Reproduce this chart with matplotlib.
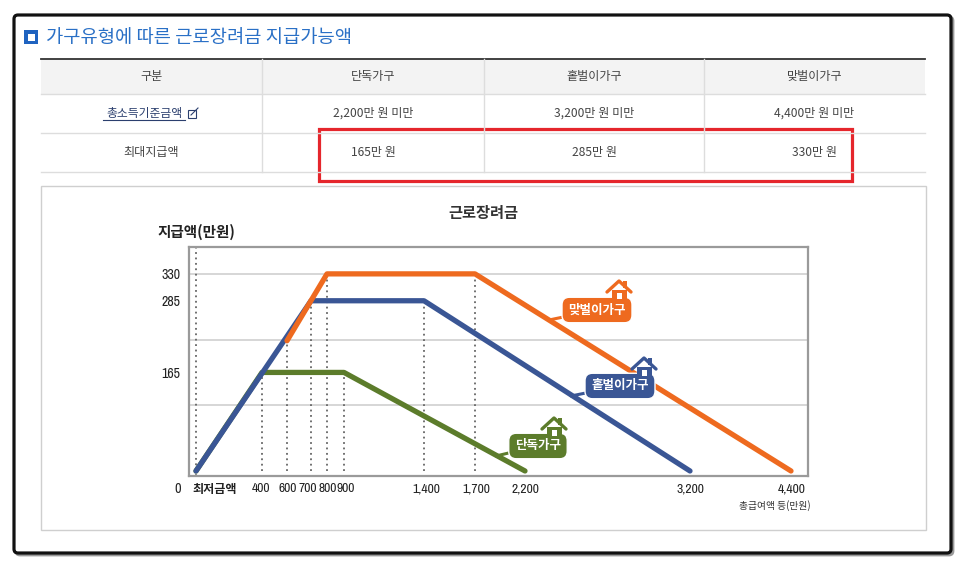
import numpy as np
import matplotlib.pyplot as plt
from matplotlib import font_manager
from matplotlib.transforms import offset_copy
from matplotlib.patches import Rectangle, FancyBboxPatch

plt.rcParams['font.family'] = ['Noto Sans CJK KR', 'DejaVu Sans']
fonts = font_manager.fontManager.ttflist
names = {f.name for f in fonts}
NUMFONT, NUMSIZE = ['Liberation Sans'], 7
for cand in ['Liberation Sans Narrow', 'Arial Narrow', 'Archivo Narrow', 'PT Sans Narrow',
             'Roboto Condensed', 'Open Sans Condensed', 'Fira Sans Condensed']:
    if cand in names:
        NUMFONT, NUMSIZE = [cand], 9.8
        break

# data
title = '가구유형에 따른 근로장려금 지급가능액'
table_head = ['구분', '단독가구', '홑벌이가구', '맞벌이가구']
table_row1 = ['총소득기준금액', '2,200만 원 미만', '3,200만 원 미만', '4,400만 원 미만']
table_row2 = ['최대지급액', '165만 원', '285만 원', '330만 원']

x_ticks = [0, 400, 600, 700, 800, 900, 1400, 1700, 2200, 3200, 4400]
x_labels = ['최저금액', '400', '600', '700', '800', '900', '1,400', '1,700', '2,200', '3,200', '4,400']
y_ticks = [165, 285, 330]
y_grid = [110, 220, 330]

single_x = [0, 400, 900, 2200]
single_y = [0, 165, 165, 0]
one_x = [0, 700, 1400, 3200]
one_y = [0, 285, 285, 0]
# 맞벌이 rising part is hidden under 홑벌이 until 600
dual_x = [600, 800, 1700, 4400]
dual_y = [218, 330, 330, 0]

dot_x = [400, 600, 700, 800, 900, 1400, 1700]
dot_top = [165, 218, 285, 330, 165, 285, 330]

# small horizontal nudges of the x labels, in pixels
label_nudge = [-4, -1, 1, -3, 1, 2, 2, 1, 0, 0, 1]

ORANGE = '#ee6a1f'
BLUE = '#3a5695'
GREEN = '#5c7c2b'

fig = plt.figure(figsize=(9.66, 5.68), dpi=100)
bg = fig.add_axes([0, 0, 1, 1])
bg.set_xlim(0, 966)
bg.set_ylim(568, 0)
bg.axis('off')

# outer frame
bg.add_patch(FancyBboxPatch((16, 17), 937, 538, boxstyle='round,pad=0,rounding_size=4',
                            fc='none', ec='#9a9a9a', lw=2))
bg.add_patch(FancyBboxPatch((14, 15), 937, 538, boxstyle='round,pad=0,rounding_size=4',
                            fc='white', ec='#111111', lw=2.3))

# title
bg.add_patch(Rectangle((24, 30), 14, 14, fc='#1f63c0', ec='none'))
bg.add_patch(Rectangle((28, 34), 7, 7, fc='white', ec='none'))
bg.text(46, 37, title, fontsize=13.5, fontweight='medium', color='#2a70c6', va='center', ha='left')

# table
tx0, tx1 = 41, 925
cols = [41, 262, 484, 704, 925]
rows = [59, 94, 133, 172]
bg.add_patch(Rectangle((tx0, rows[0]), tx1 - tx0, rows[1] - rows[0], fc='#f3f3f3', ec='none'))
for y in rows[1:]:
    bg.plot([tx0, tx1], [y, y], color='#dddddd', lw=1)
bg.plot([tx0, tx1], [rows[0], rows[0]], color='#333333', lw=1.3)
for x in cols[1:-1]:
    bg.plot([x, x], [rows[0], rows[-1]], color='#dddddd', lw=1)
for r, row in enumerate([table_head, table_row1, table_row2]):
    yc = (rows[r] + rows[r + 1]) / 2
    for c, txt in enumerate(row):
        xc = (cols[c] + cols[c + 1]) / 2
        if r == 1 and c == 0:
            bg.text(xc - 7, yc, txt, fontsize=8.5, color='#2b3f6e', ha='center', va='center')
            bg.plot([103, 185], [119.5, 119.5], color='#2b3f6e', lw=0.8)
            bg.add_patch(Rectangle((188, 110), 8, 8, fc='none', ec='#2b3f6e', lw=0.8))
            bg.plot([191, 198], [115, 108], color='#2b3f6e', lw=0.8)
        else:
            bg.text(xc, yc, txt, fontsize=8.7, color='#444444', ha='center', va='center')

bg.add_patch(Rectangle((319, 129), 533, 52, fc='none', ec='#e5262c', lw=2.3))

# chart panel
bg.add_patch(Rectangle((41, 186), 885, 344, fc='none', ec='#cfcfcf', lw=1))
bg.text(483, 213, '근로장려금', fontsize=11, fontweight='bold', color='#333333', ha='center', va='center')
bg.text(157, 232, '지급액(만원)', fontsize=10.5, fontweight='bold', color='#222222', ha='left', va='center')
bg.text(178, 489, '0', fontsize=NUMSIZE + 0.5, family=NUMFONT, color='#222222', ha='center', va='center')
bg.text(775, 506, '총급여액 등(만원)', fontsize=7, color='#333333', ha='center', va='center')

# chart: piecewise x scale following the drawing
bv = np.array(x_ticks, float)
bp = np.array([196, 262, 287, 311, 327, 344, 424, 475, 525, 690, 791], float)


def fwd(x):
    x = np.asarray(x, float)
    out = np.interp(x, bv, bp)
    out = np.where(x < bv[0], bp[0] + (x - bv[0]) * 0.1, out)
    out = np.where(x > bv[-1], bp[-1] + (x - bv[-1]) * 0.1, out)
    return out


def inv(p):
    p = np.asarray(p, float)
    out = np.interp(p, bp, bv)
    out = np.where(p < bp[0], bv[0] + (p - bp[0]) / 0.1, out)
    out = np.where(p > bp[-1], bv[-1] + (p - bp[-1]) / 0.1, out)
    return out


left, right, top, bottom = 189, 808, 247, 476
ax = fig.add_axes([left / 966, (568 - bottom) / 568, (right - left) / 966, (bottom - top) / 568])
ax.set_facecolor('none')
ax.set_xscale('function', functions=(fwd, inv))

for y in y_grid:
    ax.axhline(y, color='#d0d0d0', lw=1.2, zorder=0)
ax.axvline(0, color='#666666', lw=1.3, ls=(0, (1, 2)), zorder=1)
ax.vlines(dot_x, 0, dot_top, colors='#666666', lw=1.3, linestyles=(0, (1, 2)), zorder=1)

ax.plot(single_x, single_y, color=GREEN, lw=3.8, solid_capstyle='round', solid_joinstyle='round', zorder=2)
ax.plot(one_x, one_y, color=BLUE, lw=3.8, solid_capstyle='round', solid_joinstyle='round', zorder=3)
ax.plot(dual_x, dual_y, color=ORANGE, lw=3.8, solid_capstyle='round', solid_joinstyle='round', zorder=4)

ax.set_xlim(inv(left), inv(right))
ax.set_ylim(-8.4, 375)
ax.set_xticks(x_ticks)
ax.set_yticks(y_ticks)
ax.tick_params(axis='x', length=0, labelbottom=False)
ax.tick_params(axis='y', length=0, pad=6, labelsize=NUMSIZE + 0.3, labelcolor='#222222')
for lab in ax.get_yticklabels():
    lab.set_family(NUMFONT)

for i, (v, lab) in enumerate(zip(x_ticks, x_labels)):
    tr = offset_copy(ax.get_xaxis_transform(), fig=fig, x=label_nudge[i], y=-13, units='dots')
    if i == 0:
        ax.text(v, 0, lab, transform=tr, ha='left', va='center', fontsize=8.7,
                fontweight='bold', color='#222222', clip_on=False)
    else:
        ax.text(v, 0, lab, transform=tr, ha='center', va='center', fontsize=NUMSIZE,
                family=NUMFONT, color='#222222', clip_on=False)

for s in ax.spines.values():
    s.set_color('#9a9a9a')
    s.set_linewidth(1.6)


def house(cx, cy, c):
    kw = dict(transform=bg.transData, clip_on=False)
    ax.add_patch(Rectangle((cx + 4, cy - 10), 3.5, 7, fc=c, ec='none', zorder=8, **kw))
    ax.plot([cx - 12, cx, cx + 12], [cy + 1, cy - 10, cy + 1], color=c, lw=2.4,
            zorder=8, solid_capstyle='round', **kw)
    ax.add_patch(Rectangle((cx - 7.5, cy - 1.5), 15, 11, fc=c, ec='none', zorder=8, **kw))
    ax.add_patch(Rectangle((cx - 2.5, cy + 2), 5, 5.5, fc='white', ec='none', zorder=9, **kw))


def callout(txt, box, tip, c):
    ax.annotate(txt, xy=tip, xycoords=bg.transData, xytext=box, textcoords=bg.transData,
                ha='center', va='center', color='white', fontsize=9, fontweight='bold',
                bbox=dict(boxstyle='round,pad=0.5,rounding_size=0.6', fc=c, ec='white', lw=1),
                arrowprops=dict(arrowstyle='-', color=c, lw=2.2, shrinkA=0, shrinkB=0),
                annotation_clip=False, zorder=7)


house(619, 291, ORANGE)
callout('맞벌이가구', (597, 310), (549, 320), ORANGE)
house(644, 368, BLUE)
callout('홑벌이가구', (620, 386), (571, 396), BLUE)
house(554, 428, GREEN)
callout('단독가구', (538, 446), (496, 456), GREEN)

fig.savefig('out.png', dpi=100)
